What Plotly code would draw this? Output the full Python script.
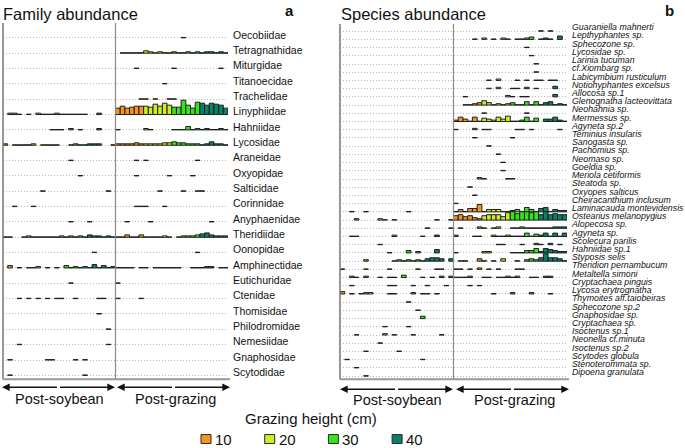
import plotly.graph_objects as go

W, H = 685, 448

# ---------------- data ----------------
height_labels = ["10", "20", "30", "40"]
height_colors = ["#F7941D", "#CCEE22", "#36E41C", "#0A8068"]

family_names = ["Oecobiidae", "Tetragnathidae", "Miturgidae", "Titanoecidae", "Trachelidae",
                "Linyphiidae", "Hahniidae", "Lycosidae", "Araneidae", "Oxyopidae", "Salticidae",
                "Corinnidae", "Anyphaenidae", "Theridiidae", "Oonopidae", "Amphinectidae",
                "Eutichuridae", "Ctenidae", "Thomisidae", "Philodromidae", "Nemesiidae",
                "Gnaphosidae", "Scytodidae"]

# 48 samples per row: 24 post-soybean | 24 post-grazing, 6 per grazing height (10,20,30,40)
# digits in base 36 (a=10, b=11 ...), abundance in bar-height units
family_abundance = [
    "000000 000000 000000 000000 | 000000 000000 001000 000000",
    "000000 000000 000000 000000 | 011111 321211 211212 122121",
    "000000 000000 000000 000000 | 000010 000000 100000 000010",
    "000000 000000 000000 000000 | 000000 000010 000000 000000",
    "000000 000000 000000 000000 | 000001 101001 100000 000000",
    "022101 021112 111111 002000 | 797899 98b9ca 88fa7d cacba7",
    "000000 000011 102010 002000 | 100000 210000 111412 121121",
    "201111 201111 001211 222001 | 222232 222233 433222 124221",
    "000000 000000 001000 000000 | 000010 100000 000001 000000",
    "000000 000000 000010 000000 | 000010 000001 000010 000000",
    "000000 001000 000000 000010 | 000000 000100 001001 100000",
    "001000 100000 000000 000000 | 000011 100010 000000 000000",
    "000000 000000 001000 100000 | 001000 010000 000000 001000",
    "110012 111111 212121 322121 | 113113 111121 012223 453222",
    "000000 000000 000000 010000 | 000000 000000 000001 000000",
    "030101 120101 031212 141312 | 111101 101111 110011 122011",
    "000000 000000 001000 000000 | 100000 000000 000000 000000",
    "000101 010101 100100 001100 | 100001 000000 000000 000000",
    "000000 000000 000000 001000 | 000000 000000 000000 000000",
    "000000 000000 000000 000010 | 000000 000000 000000 000000",
    "000100 000000 000000 000010 | 000000 000000 000000 000000",
    "010000 000110 000101 000000 | 000000 000000 000000 000000",
    "010000 000000 000001 000000 | 000000 000000 000000 000000",
]

species_names = ["Guaraniella mahnerti", "Lepthyphantes sp.", "Sphecozone sp.", "Lycosidae sp.",
                 "Larinia tucuman", "cf.Xiombarg sp.", "Labicymbium rusticulum",
                 "Notiohyphantes excelsus", "Allocosa sp.1", "Glenognatha lacteovittata",
                 "Neohahnia sp.", "Mermessus sp.", "Agyneta sp.2", "Teminius insularis",
                 "Sanogasta sp.", "Pachomius sp.", "Neomaso sp.", "Goeldia sp.",
                 "Meriola cetiformis", "Steatoda sp.", "Oxyopes salticus",
                 "Cheiracanthium inclusum", "Laminacauda montevidensis",
                 "Ostearius melanopygius", "Alopecosa sp.", "Agyneta sp.", "Scolecura parilis",
                 "Hahniidae sp.1", "Styposis selis", "Theridion pernambucum", "Metaltella simoni",
                 "Cryptachaea pinguis", "Lycosa erytrognatha", "Thymoites aff.taiobeiras",
                 "Sphecozone sp.2", "Gnaphosidae sp.", "Cryptachaea sp.", "Isoctenus sp.1",
                 "Neonella cf.minuta", "Isoctenus sp.2", "Scytodes globula",
                 "Stenoterommata sp.", "Dipoena granulata"]

species_abundance = [
    "000000 000000 000000 000000 | 000000 000000 000000 101000",
    "000000 000000 000000 000000 | 000010 201021 011230 121040",
    "000000 000000 000000 000000 | 000000 000000 000100 000000",
    "000000 000000 000000 000000 | 000000 000000 000010 000000",
    "000000 000000 000000 000000 | 000000 000000 000001 000000",
    "000000 000000 000000 000000 | 000000 000000 000001 000000",
    "000000 000000 000000 000000 | 000000 010200 010101 101100",
    "000000 000000 000000 000000 | 000000 010200 110201 000300",
    "000000 000000 000000 000000 | 001000 000002 101100 000300",
    "000000 000000 000000 000000 | 001123 531212 311414 134121",
    "000000 000000 000000 000000 | 000000 100000 000100 000000",
    "000000 000000 000000 000000 | 253151 432536 112514 033521",
    "000000 000000 000000 000000 | 100020 110000 011010 000010",
    "000000 000000 000000 000000 | 000010 000000 100000 000000",
    "000000 000000 000000 000000 | 000000 010000 000000 000000",
    "000000 000000 000000 000000 | 000000 000100 000000 000000",
    "000000 000000 000000 000000 | 000000 000010 000000 000000",
    "000000 000000 000000 000000 | 000000 000010 000000 000000",
    "000000 000000 000000 000000 | 000002 100001 100000 000000",
    "000000 000000 000000 000000 | 000100 000000 000000 000000",
    "000000 000000 000000 000000 | 000010 000000 000000 000000",
    "000000 000000 000000 000000 | 100000 000000 000000 000000",
    "001001 000000 001000 000000 | 131448 133311 231531 451322",
    "000200 002101 000000 001001 | 564532 566648 979989 696766",
    "000000 000000 000000 100001 | 010002 101200 112111 111222",
    "001100 000002 000001 002000 | 200011 002112 111413 241414",
    "000000 001000 000000 000000 | 000000 000110 001002 102010",
    "000000 000010 003020 004000 | 100000 220000 111335 254322",
    "000002 000001 212121 344303 | 011003 101030 010232 484431",
    "100001 000010 000010 001100 | 110102 010100 011000 000000",
    "002102 001011 030001 010202 | 111200 110112 120011 022000",
    "001000 000011 000100 100010 | 000101 000000 000000 000000",
    "301012 200011 000201 101000 | 000000 001000 200020 001000",
    "000000 000000 001000 000000 | 000000 000000 000000 000000",
    "000000 000000 000010 000000 | 000000 000000 000000 000000",
    "000000 000000 000003 000000 | 000000 000000 000000 000000",
    "000000 000100 001000 000000 | 000000 000000 000000 000000",
    "000100 000201 000100 000100 | 000000 000000 000000 000000",
    "000000 001000 000000 000000 | 000000 000000 000000 000000",
    "000001 000000 100000 000000 | 000000 000000 000000 000000",
    "010000 000000 000001 000000 | 000000 000000 000000 000000",
    "000100 000000 000000 000000 | 000000 000000 000000 000000",
    "000001 000000 000000 000000 | 000000 000000 000000 000000",
]


def parse(s):
    s = s.replace(" ", "").replace("|", "")
    return [int(c, 36) for c in s]


def px(x):
    return x / W


def py(y):
    return 1 - y / H


FONT = "Liberation Sans, Arial, sans-serif"
fig = go.Figure()

panels = [
    dict(names=family_names, data=family_abundance, xa="x", ya="y", unit=15.41),
    dict(names=species_names, data=species_abundance, xa="x2", ya="y2", unit=8.25),
]

for pnl in panels:
    n = len(pnl["names"])
    rows = [parse(s) for s in pnl["data"]]
    for g in range(4):
        xs, ys, bs = [], [], []
        for i, vals in enumerate(rows):
            for c, v in enumerate(vals):
                if v > 0 and (c % 24) // 6 == g:
                    xs.append(c)
                    # bar-height scale: a single individual is drawn as a thin dash
                    ys.append((v - 0.6) / pnl["unit"])
                    bs.append(n - 1 - i)
        fig.add_trace(go.Bar(x=xs, y=ys, base=bs, width=1,
                             marker=dict(color=height_colors[g],
                                         line=dict(color="#1e1e1e", width=1)),
                             xaxis=pnl["xa"], yaxis=pnl["ya"], showlegend=False,
                             hoverinfo="skip"))

grid = dict(showgrid=True, gridcolor="#b8b8b8", gridwidth=1, griddash="1px,2px",
            zeroline=False, showline=False, ticks="", side="right")
xcommon = dict(range=[-0.5, 47.5], showgrid=False, zeroline=False, showticklabels=False,
               showline=False, ticks="")

nf = len(family_names)
ns = len(species_names)
fig.update_layout(
    width=W, height=H, margin=dict(l=0, r=0, t=0, b=0),
    paper_bgcolor="white", plot_bgcolor="white", barmode="overlay", showlegend=False,
    font=dict(family=FONT, color="#111111"),
    xaxis=dict(domain=[px(3), px(228)], anchor="y", **xcommon),
    yaxis=dict(domain=[py(379), py(21)], anchor="x", range=[-0.258, 22.973],
               tickvals=[nf - 1 - i for i in range(nf)], ticktext=family_names,
               tickfont=dict(size=10.5, family=FONT, color="#111"),
               ticklabelshift=-3, ticklabelstandoff=4, **grid),
    xaxis2=dict(domain=[px(340), px(567)], anchor="y2", **xcommon),
    yaxis2=dict(domain=[py(379), py(22)], anchor="x2", range=[-0.388, 42.885],
                tickvals=[ns - 1 - i for i in range(ns)], ticktext=species_names,
                tickfont=dict(size=8.8, family=FONT, color="#111", style="italic"),
                ticklabelshift=-4, ticklabelstandoff=4, **grid),
)

shapes = []
line_col = "#8a8a8a"
# frame lines and dividers
for (xl, xr, top, xa, ya) in [(3, 230, 21, "x", "y"), (340, 569, 22, "x2", "y2")]:
    shapes.append(dict(type="line", xref="paper", yref="paper", x0=px(xl), x1=px(xl),
                       y0=py(379), y1=py(top), line=dict(color="#777", width=1.5)))
    shapes.append(dict(type="line", xref="paper", yref="paper", x0=px(xl), x1=px(xr),
                       y0=py(379), y1=py(379), line=dict(color="#999", width=2)))
    shapes.append(dict(type="line", xref=xa, yref=ya + " domain", x0=23.5, x1=23.5,
                       y0=0, y1=1, line=dict(color=line_col, width=1.2)))

annotations = []
# titles
annotations.append(dict(text="Family abundance", xref="paper", yref="paper", x=px(1), y=py(12),
                        xanchor="left", yanchor="middle", showarrow=False,
                        font=dict(size=16.5, family=FONT, color="#111")))
annotations.append(dict(text="Species abundance", xref="paper", yref="paper", x=px(339), y=py(12),
                        xanchor="left", yanchor="middle", showarrow=False,
                        font=dict(size=16.5, family=FONT, color="#111")))
annotations.append(dict(text="<b>a</b>", xref="paper", yref="paper", x=px(289), y=py(9),
                        xanchor="center", yanchor="middle", showarrow=False,
                        font=dict(size=15, family=FONT, color="#111")))
annotations.append(dict(text="<b>b</b>", xref="paper", yref="paper", x=px(669), y=py(9),
                        xanchor="center", yanchor="middle", showarrow=False,
                        font=dict(size=15, family=FONT, color="#111")))


def double_arrow(x0, x1, y):
    mid = (x0 + x1) / 2
    for end in (x0, x1):
        annotations.append(dict(text="", xref="paper", yref="paper", x=px(end), y=py(y),
                                ax=mid - end, ay=0, axref="pixel", ayref="pixel",
                                showarrow=True, arrowhead=2, arrowsize=1.1, arrowwidth=1.4,
                                arrowcolor="#111", standoff=0, startstandoff=0))


double_arrow(2, 115, 387)
double_arrow(117, 230, 387)
double_arrow(340, 453, 389)
double_arrow(456, 569, 389)

for txt, xc, yc in [("Post-soybean", 59, 399), ("Post-grazing", 175, 399),
                    ("Post-soybean", 397, 400), ("Post-grazing", 514, 400)]:
    annotations.append(dict(text=txt, xref="paper", yref="paper", x=px(xc), y=py(yc),
                            xanchor="center", yanchor="middle", showarrow=False,
                            font=dict(size=14.5, family=FONT, color="#111")))

# legend
annotations.append(dict(text="Grazing height (cm)", xref="paper", yref="paper", x=px(311), y=py(418),
                        xanchor="center", yanchor="middle", showarrow=False,
                        font=dict(size=15, family=FONT, color="#111")))
for k, (lab, col) in enumerate(zip(height_labels, height_colors)):
    sx = 201 + 63.7 * k
    shapes.append(dict(type="rect", xref="paper", yref="paper", x0=px(sx), x1=px(sx + 10),
                       y0=py(443.5), y1=py(434.5), fillcolor=col,
                       line=dict(color="#2a2a2a", width=1)))
    annotations.append(dict(text=lab, xref="paper", yref="paper", x=px(sx + 12), y=py(439.5),
                            xanchor="left", yanchor="middle", showarrow=False,
                            font=dict(size=15, family=FONT, color="#111")))

fig.update_layout(shapes=shapes, annotations=annotations)
fig.write_html("out.html", config={"displayModeBar": False},
               post_script="document.body.style.margin='0px';"
               "document.body.style.padding='0px';")
